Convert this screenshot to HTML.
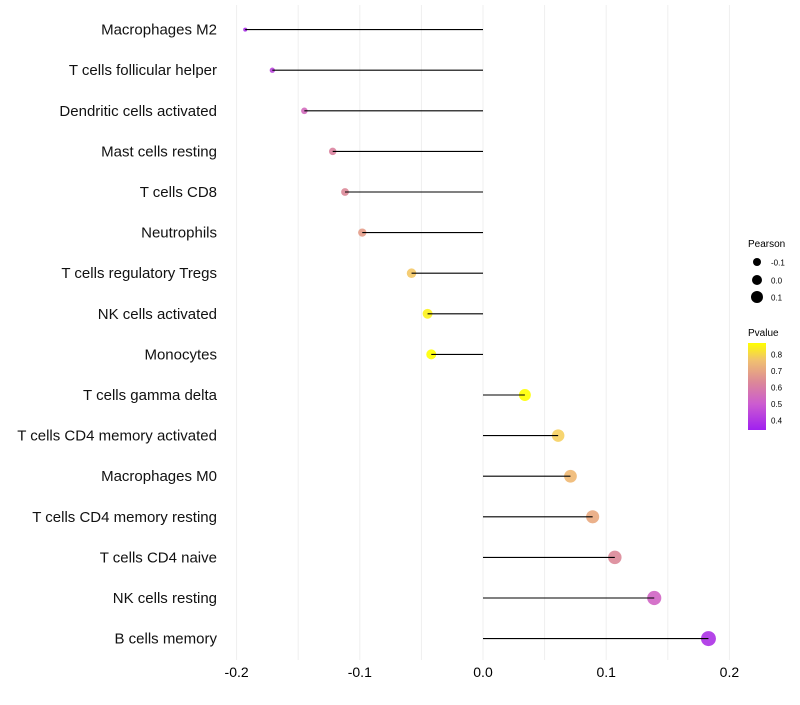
<!DOCTYPE html>
<html><head><meta charset="utf-8"><style>
body{margin:0;background:#fff;font-family:"Liberation Sans",sans-serif}
svg text{font-family:"Liberation Sans",sans-serif}
</style></head><body>
<svg id="chart" width="800" height="700" xmlns="http://www.w3.org/2000/svg">
<defs><linearGradient id="pgrad" x1="0" y1="1" x2="0" y2="0">
<stop offset="0" stop-color="#a020f0"/><stop offset="0.3" stop-color="#cc5cd0"/><stop offset="0.55" stop-color="#dc8898"/><stop offset="0.8" stop-color="#f0c070"/><stop offset="1" stop-color="#ffff00"/></linearGradient></defs>
<g id="grid"></g><g id="marks"></g><g id="labels"></g>
<g>
<text x="748" y="247" font-size="10">Pearson</text>
<circle cx="757" cy="262" r="4" fill="#000"/>
<text x="771" y="265.5" font-size="8">-0.1</text>
<circle cx="757" cy="280" r="5" fill="#000"/>
<text x="771" y="283.5" font-size="8">0.0</text>
<circle cx="757" cy="297" r="6" fill="#000"/>
<text x="771" y="300.5" font-size="8">0.1</text>
<text x="748" y="336" font-size="10">Pvalue</text>
<rect x="748" y="343" width="18" height="87" fill="url(#pgrad)"/>
<text x="771" y="357.5" font-size="8">0.8</text>
<text x="771" y="374" font-size="8">0.7</text>
<text x="771" y="390.5" font-size="8">0.6</text>
<text x="771" y="407" font-size="8">0.5</text>
<text x="771" y="423.5" font-size="8">0.4</text>
</g>
</svg>
<script>
const categories=["Macrophages M2","T cells follicular helper","Dendritic cells activated","Mast cells resting","T cells CD8","Neutrophils","T cells regulatory  Tregs ","NK cells activated","Monocytes","T cells gamma delta","T cells CD4 memory activated","Macrophages M0","T cells CD4 memory resting","T cells CD4 naive","NK cells resting","B cells memory"];
const pearson=[-0.193,-0.171,-0.145,-0.122,-0.112,-0.098,-0.058,-0.045,-0.042,0.034,0.061,0.071,0.089,0.107,0.139,0.183];
const pvalues=[0.37,0.42,0.52,0.60,0.62,0.67,0.78,0.85,0.87,0.87,0.80,0.74,0.70,0.62,0.50,0.38];
const xTicks=[-0.2,-0.1,0,0.1,0.2];
const xTickLabels=["-0.2","-0.1","0.0","0.1","0.2"];
const NS="http://www.w3.org/2000/svg";
function xs(v){return 483+v*1232;}
function ys(i){return 29.6+i*40.6;}
function rs(v){return Math.sqrt(Math.max(3,30.7+138*v));}
const stops=[[0.34,[160,32,240]],[0.5,[208,100,196]],[0.62,[220,136,152]],[0.72,[236,176,120]],[0.8,[246,208,96]],[0.87,[255,255,0]]];
function col(p){if(p<=stops[0][0])return "rgb("+stops[0][1]+")";for(let i=1;i<stops.length;i++){if(p<=stops[i][0]){const a=stops[i-1],b=stops[i],t=(p-a[0])/(b[0]-a[0]);return "rgb("+a[1].map((c,k)=>Math.round(c+(b[1][k]-c)*t)).join(",")+")";}}return "rgb(255,255,0)";}
function mk(t,a){const e=document.createElementNS(NS,t);for(const k in a)e.setAttribute(k,a[k]);return e;}
const grid=document.getElementById("grid"),marks=document.getElementById("marks"),labels=document.getElementById("labels");
for(let v=-0.2;v<=0.2001;v+=0.05){const l=mk("line",{x1:xs(v),x2:xs(v),y1:5,y2:660,stroke:"#efefef","stroke-width":1});


grid.appendChild(l);}
xTicks.forEach((v,i)=>{const t=mk("text",{x:xs(v),y:677,"font-size":14,"text-anchor":"middle",fill:"#000"});t.textContent=xTickLabels[i];


labels.appendChild(t);});
categories.forEach((c,i)=>{
const t=mk("text",{x:217,y:ys(i)+5,"font-size":15,"text-anchor":"end",fill:"#111"});t.textContent=c;


labels.appendChild(t);
const p=mk("circle",{cx:xs(pearson[i]),cy:ys(i),r:rs(pearson[i]),fill:col(pvalues[i]),"fill-opacity":0.9});


marks.appendChild(p);
const s=mk("line",{x1:xs(0),x2:xs(pearson[i]),y1:ys(i),y2:ys(i),stroke:"#000","stroke-width":1.1});


marks.appendChild(s);
});
</script>
</body></html>
